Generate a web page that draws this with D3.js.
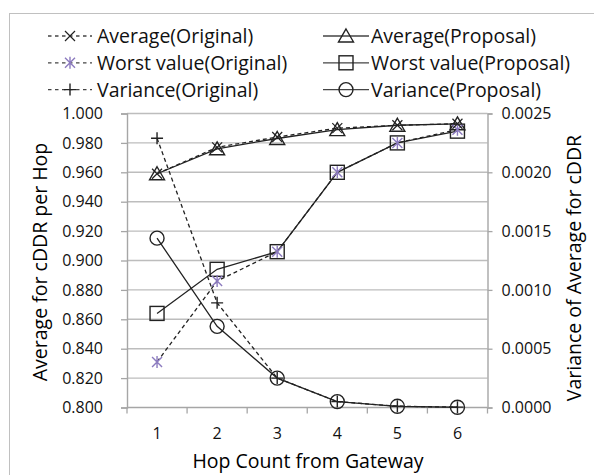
<!DOCTYPE html>
<html><head><meta charset="utf-8">
<script src="https://cdn.jsdelivr.net/npm/d3@7"></script>
<style>body{margin:0;background:#fff}svg{display:block}text{font-family:"Open Sans",Roboto,sans-serif}</style>
</head><body><svg id="c" width="594" height="475"></svg>
<script>
const hops = [1, 2, 3, 4, 5, 6];
const avgOriginal = [0.959, 0.977, 0.984, 0.990, 0.992, 0.993];
const worstOriginal = [0.831, 0.886, 0.906, 0.960, 0.980, 0.989];
const varOriginal = [0.00229, 0.00089, 0.00025, 0.00005, 0.000011, 0.000003];
const avgProposal = [0.959, 0.976, 0.983, 0.989, 0.992, 0.993];
const worstProposal = [0.864, 0.894, 0.906, 0.960, 0.980, 0.988];
const varProposal = [0.00144, 0.00069, 0.00025, 0.00005, 0.000010, 0.000002];
const leftTicks = [0.800,0.820,0.840,0.860,0.880,0.900,0.920,0.940,0.960,0.980,1.000];
const rightTicks = [0,0.0005,0.0010,0.0015,0.0020,0.0025];

const svg = d3.select('#c');
const L = 127, R = 487.5, T = 113.5, B = 407.5;
const x = d3.scaleBand().domain(hops).range([L, R]);
const yL = d3.scaleLinear().domain([0.8, 1.0]).range([B, T]);
const yR = d3.scaleLinear().domain([0, 0.0025]).range([B, T]);
const FONT = '"Open Sans",Roboto,sans-serif';

// frame
svg.append('rect').attr('x', 9.5).attr('y', 13.5).attr('width', 600).attr('height', 480)
  .attr('fill', 'none').attr('stroke', '#c0c0c0');

// gridlines
svg.append('g').selectAll('line').data(leftTicks.slice(1)).join('line')
  .attr('x1', L).attr('x2', R).attr('y1', d => yL(d)).attr('y2', d => yL(d))
  .attr('stroke', '#bdbdbd').attr('stroke-width', 1.4);

// axes
const gl = svg.append('g').attr('transform', `translate(${L},0)`)
  .call(d3.axisLeft(yL).tickValues(leftTicks).tickFormat(d3.format('.3f')).tickSize(6).tickPadding(18));
const gr = svg.append('g').attr('transform', `translate(${R},0)`)
  .call(d3.axisRight(yR).tickValues(rightTicks).tickFormat(d3.format('.4f')).tickSize(5).tickPadding(9));
const gb = svg.append('g').attr('transform', `translate(0,${B})`)
  .call(d3.axisBottom(x).tickSize(0).tickPadding(20));
svg.append('g').selectAll('line').data(d3.range(hops.length + 1)).join('line')
  .attr('x1', i => L + i * x.step()).attr('x2', i => L + i * x.step())
  .attr('y1', B).attr('y2', B + 6).attr('stroke', '#a6a6a6').attr('stroke-width', 1.3);
[gl, gr, gb].forEach(g => {
  g.selectAll('.domain').attr('stroke', '#a6a6a6').attr('stroke-width', 1.4);
  g.selectAll('.tick line').attr('stroke', '#a6a6a6').attr('stroke-width', 1.3);
  g.selectAll('text').attr('font-size', 16).attr('fill', '#111').style('font-family', FONT);
});
gb.selectAll('.domain').attr('d', `M${L},0H${R}`);

// axis titles
svg.append('text').attr('x', 308).attr('y', 468).attr('text-anchor', 'middle').attr('font-size', 19.5).text('Hop Count from Gateway');
svg.append('text').attr('transform', 'translate(47,262) rotate(-90)').attr('text-anchor', 'middle').attr('font-size', 19.5).text('Average for cDDR per Hop');
svg.append('text').attr('transform', 'translate(581,268) rotate(-90)').attr('text-anchor', 'middle').attr('font-size', 19.5).text('Variance of Average for cDDR');

// markers
function marker(g, type, cx, cy) {
  const s = g.append('g').attr('transform', `translate(${cx},${cy})`);
  const k = '#222';
  if (type === 'tri') s.append('path').attr('d', 'M0,-7L7.5,6L-7.5,6Z').attr('fill', 'none').attr('stroke', k).attr('stroke-width', 1.4);
  if (type === 'sq') s.append('rect').attr('x', -7).attr('y', -7).attr('width', 14).attr('height', 14).attr('fill', 'none').attr('stroke', k).attr('stroke-width', 1.4);
  if (type === 'circ') s.append('circle').attr('r', 7).attr('fill', 'none').attr('stroke', k).attr('stroke-width', 1.4);
  if (type === 'x') s.append('path').attr('d', 'M-5,-5L5,5M-5,5L5,-5').attr('stroke', k).attr('stroke-width', 1.2);
  if (type === 'plus') s.append('path').attr('d', 'M-6,0H6M0,-6V6').attr('stroke', k).attr('stroke-width', 1.4);
  if (type === 'star') s.append('path').attr('d', 'M-5,-5L5,5M-5,5L5,-5M0,-6V6').attr('stroke', '#8c7bbf').attr('stroke-width', 1.4);
}

const series = [
  {name: 'Average(Original)', vals: avgOriginal, y: yL, dash: '4,3', m: 'x'},
  {name: 'Worst value(Original)', vals: worstOriginal, y: yL, dash: '4,3', m: 'star'},
  {name: 'Variance(Original)', vals: varOriginal, y: yR, dash: '4,3', m: 'plus'},
  {name: 'Average(Proposal)', vals: avgProposal, y: yL, dash: null, m: 'tri'},
  {name: 'Worst value(Proposal)', vals: worstProposal, y: yL, dash: null, m: 'sq'},
  {name: 'Variance(Proposal)', vals: varProposal, y: yR, dash: null, m: 'circ'}
];
const cx = h => x(h) + x.bandwidth() / 2;
const plot = svg.append('g');
const order = [5, 4, 3, 2, 1, 0];
order.forEach(i => {
  const s = series[i];
  const line = d3.line().x((d, j) => cx(hops[j])).y(d => s.y(d));
  plot.append('path').attr('d', line(s.vals)).attr('fill', 'none').attr('stroke', '#222')
    .attr('stroke-width', 1.3).attr('stroke-dasharray', s.dash);
});
order.forEach(i => {
  const s = series[i];
  s.vals.forEach((v, j) => marker(plot, s.m, cx(hops[j]), s.y(v)));
});

// legend
const leg = svg.append('g');
series.forEach((s, i) => {
  const col = Math.floor(i / 3), row = i % 3;
  const x0 = col === 0 ? 48 : 323, x1 = col === 0 ? 92 : 369, tx = col === 0 ? 97 : 371;
  const yy = 36 + row * 26.8;
  leg.append('line').attr('x1', x0).attr('x2', x1).attr('y1', yy).attr('y2', yy)
    .attr('stroke', '#444').attr('stroke-width', 1.3).attr('stroke-dasharray', s.dash ? '3.5,3.5' : null);
  marker(leg, s.m, (x0 + x1) / 2, yy);
  leg.append('text').attr('x', tx).attr('y', yy + 7).attr('font-size', 19.5).attr('fill', '#111').text(s.name);
});
</script></body></html>
